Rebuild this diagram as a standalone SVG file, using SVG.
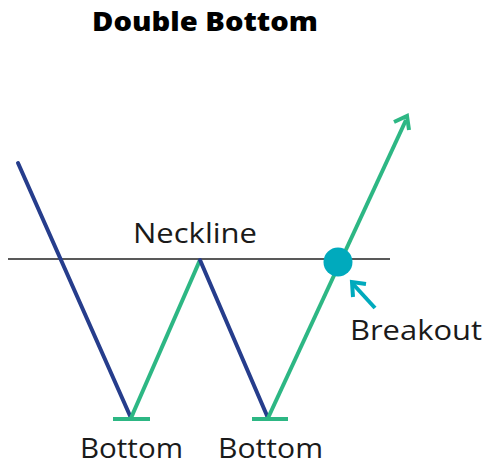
<svg xmlns="http://www.w3.org/2000/svg" width="486" height="467" viewBox="0 0 486 467">
<style>
.lbl{font-family:"Open Sans","Noto Sans",sans-serif;font-size:27px;fill:#1a1a1a}
.title{font-family:"Open Sans","Noto Sans",sans-serif;font-size:27px;font-weight:800;fill:#000}
.blue{stroke:#263d8c;stroke-width:4;fill:none;stroke-linecap:round}
.green{stroke:#2db784;stroke-width:4;fill:none;stroke-linecap:butt}
.teal{stroke:#00aabd;stroke-width:4;fill:none}
</style>
<rect width="486" height="467" fill="#fff"/>
<text class="title" x="92" y="31" textLength="226" lengthAdjust="spacingAndGlyphs">Double Bottom</text>
<g id="connectors">
<line x1="8" y1="259" x2="390" y2="259" stroke="#222" stroke-width="1.6"/>
<line class="blue" x1="18" y1="163" x2="131" y2="418"/>
<line class="green" x1="131" y1="418" x2="200" y2="260"/>
<line class="blue" x1="200" y1="260" x2="268" y2="418"/>
<line class="green" x1="268" y1="418" x2="406" y2="120"/>
<path class="green" d="M394 122 L407 116 L409 130" stroke-linejoin="miter"/>
<line class="green" x1="113" y1="419" x2="150" y2="419"/>
<line class="green" x1="252" y1="419" x2="288" y2="419"/>
<line class="teal" x1="375" y1="308" x2="353" y2="284"/>
<path class="teal" d="M353 297 L352 282 L366 284" stroke-linejoin="miter"/>
</g>
<g id="breakout-point"><circle cx="338" cy="262" r="14.5" fill="#00aabd"/></g>
<g id="neckline"><text class="lbl" x="133" y="243" textLength="124" lengthAdjust="spacingAndGlyphs">Neckline</text></g>
<g id="breakout"><text class="lbl" x="350" y="340" textLength="132" lengthAdjust="spacingAndGlyphs">Breakout</text></g>
<g id="bottom1"><text class="lbl" x="80" y="458" textLength="103" lengthAdjust="spacingAndGlyphs">Bottom</text></g>
<g id="bottom2"><text class="lbl" x="218" y="458" textLength="105" lengthAdjust="spacingAndGlyphs">Bottom</text></g>
</svg>
